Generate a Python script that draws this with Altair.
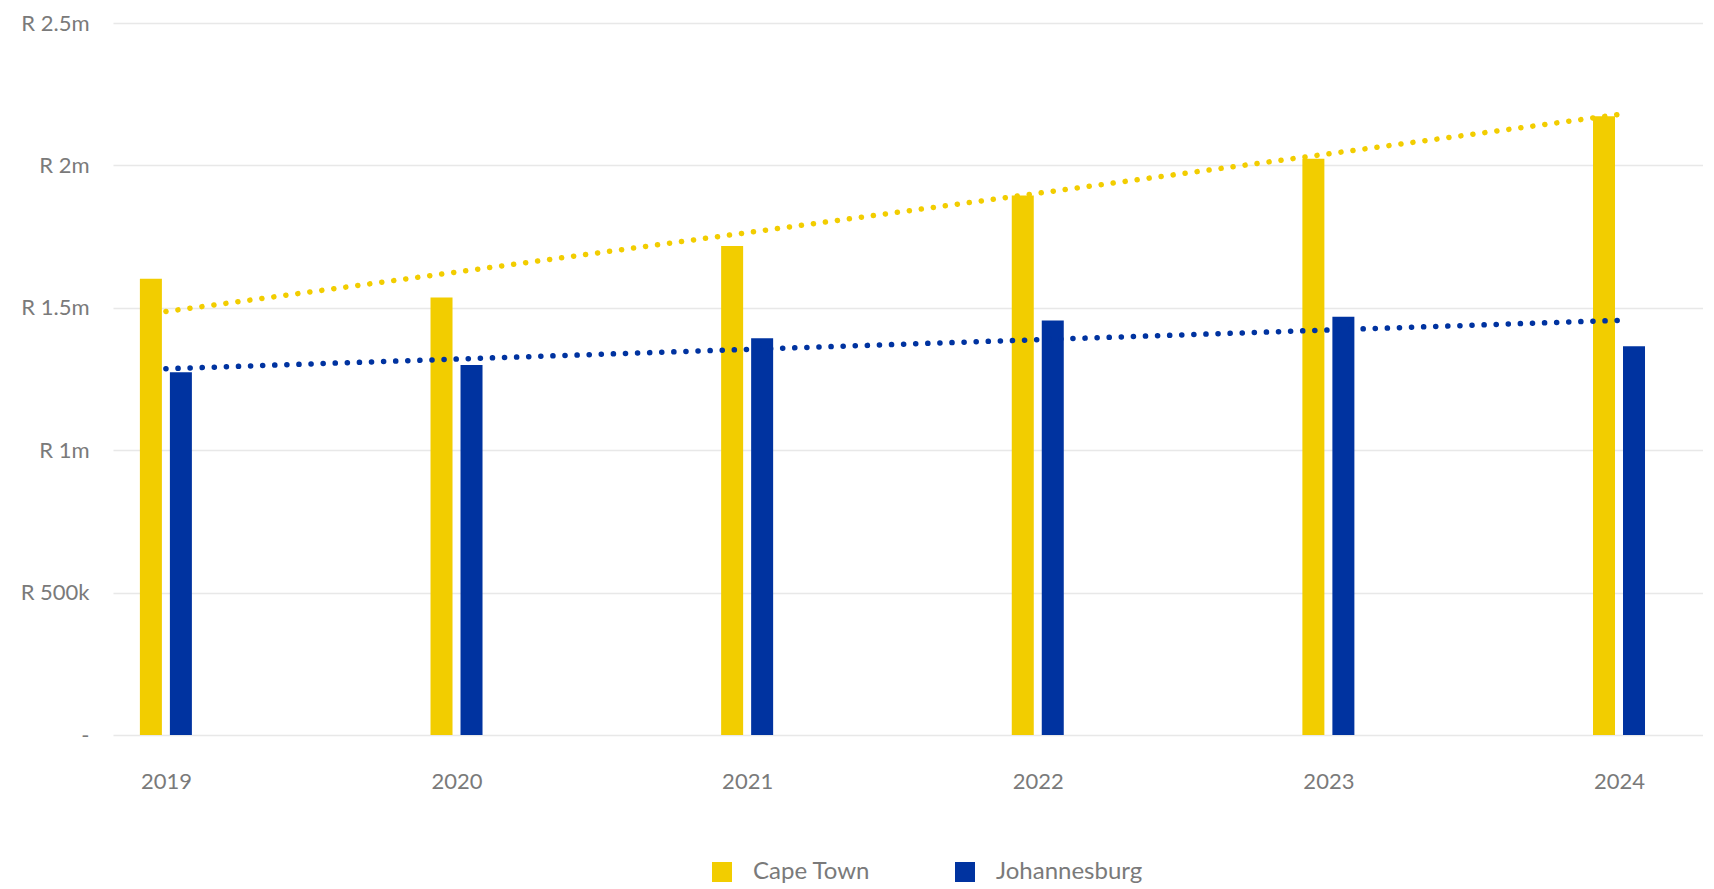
import altair as alt
import pandas as pd

years = [2019, 2020, 2021, 2022, 2023, 2024]
cities = ["Cape Town", "Johannesburg"]
cape_town = [1602000, 1536000, 1717000, 1894000, 2023000, 2173000]
johannesburg = [1274000, 1299000, 1393000, 1455000, 1469000, 1365000]

trend_years = [2019, 2024]
cape_trend = [1487000, 2179000]
jhb_trend = [1286000, 1456000]

y_ticks = [0, 500000, 1000000, 1500000, 2000000, 2500000]

colors = ["#F2CD00", "#0033A0"]
text_color = "#7a7a7a"
font = "Lato"

rows = []
for i, yr in enumerate(years):
    rows.append({"year": yr, "city": cities[0], "value": cape_town[i]})
    rows.append({"year": yr, "city": cities[1], "value": johannesburg[i]})
df = pd.DataFrame(rows)

trend_ct = pd.DataFrame({"year": trend_years, "value": cape_trend})
trend_jhb = pd.DataFrame({"year": trend_years, "value": jhb_trend})

x_scale = alt.Scale(domain=[2018.818, 2024.289], nice=False, zero=False, padding=0)
y_scale = alt.Scale(domain=[0, 2500000], nice=False, padding=0)

x_axis = alt.Axis(
    values=years, format="d", grid=False, domain=False, ticks=False,
    labelPadding=36, labelFontSize=22, labelColor=text_color, labelFont=font,
    labelFlush=False, title=None,
)
y_axis = alt.Axis(
    values=y_ticks, grid=True, gridColor="#e8e8e8", gridWidth=1.5,
    domain=False, ticks=False, labelPadding=24, labelFontSize=22,
    labelColor=text_color, labelFont=font, title=None,
    labelExpr="datum.value == 0 ? '-' : (datum.value >= 1000000 ? 'R ' + (datum.value/1000000) + 'm' : 'R ' + (datum.value/1000) + 'k')",
)

legend = alt.Legend(
    orient="none", legendX=597, legendY=837, direction="horizontal",
    title=None, symbolType="square", symbolSize=400, symbolStrokeWidth=0,
    labelFontSize=24, labelColor=text_color, labelFont=font,
    labelOffset=19, columnPadding=82, padding=0,
)

color = alt.Color("city:N", scale=alt.Scale(domain=cities, range=colors), legend=legend)

base = alt.Chart(df).encode(
    x=alt.X("year:Q", scale=x_scale, axis=x_axis),
    y=alt.Y("value:Q", scale=y_scale, axis=y_axis),
    color=color,
)

bars_ct = base.transform_filter(alt.datum.city == "Cape Town").mark_bar(size=22, xOffset=-15)
bars_jhb = base.transform_filter(alt.datum.city == "Johannesburg").mark_bar(size=22, xOffset=15)

line_ct = alt.Chart(trend_ct).mark_line(
    strokeDash=[0.1, 12], strokeCap="round", strokeWidth=5.5, color=colors[0]
).encode(x=alt.X("year:Q", scale=x_scale), y=alt.Y("value:Q", scale=y_scale))

line_jhb = alt.Chart(trend_jhb).mark_line(
    strokeDash=[0.1, 12], strokeCap="round", strokeWidth=5.5, color=colors[1]
).encode(x=alt.X("year:Q", scale=x_scale), y=alt.Y("value:Q", scale=y_scale))

chart = alt.layer(bars_ct, bars_jhb, line_ct, line_jhb).properties(
    width=1590,
    height=712,
    autosize=alt.AutoSizeParams(type="none"),
    padding={"left": 105, "top": 15, "right": 0, "bottom": 148},
).configure_view(strokeWidth=0)

chart.save("out.html", embed_options={"renderer": "svg", "actions": False})
